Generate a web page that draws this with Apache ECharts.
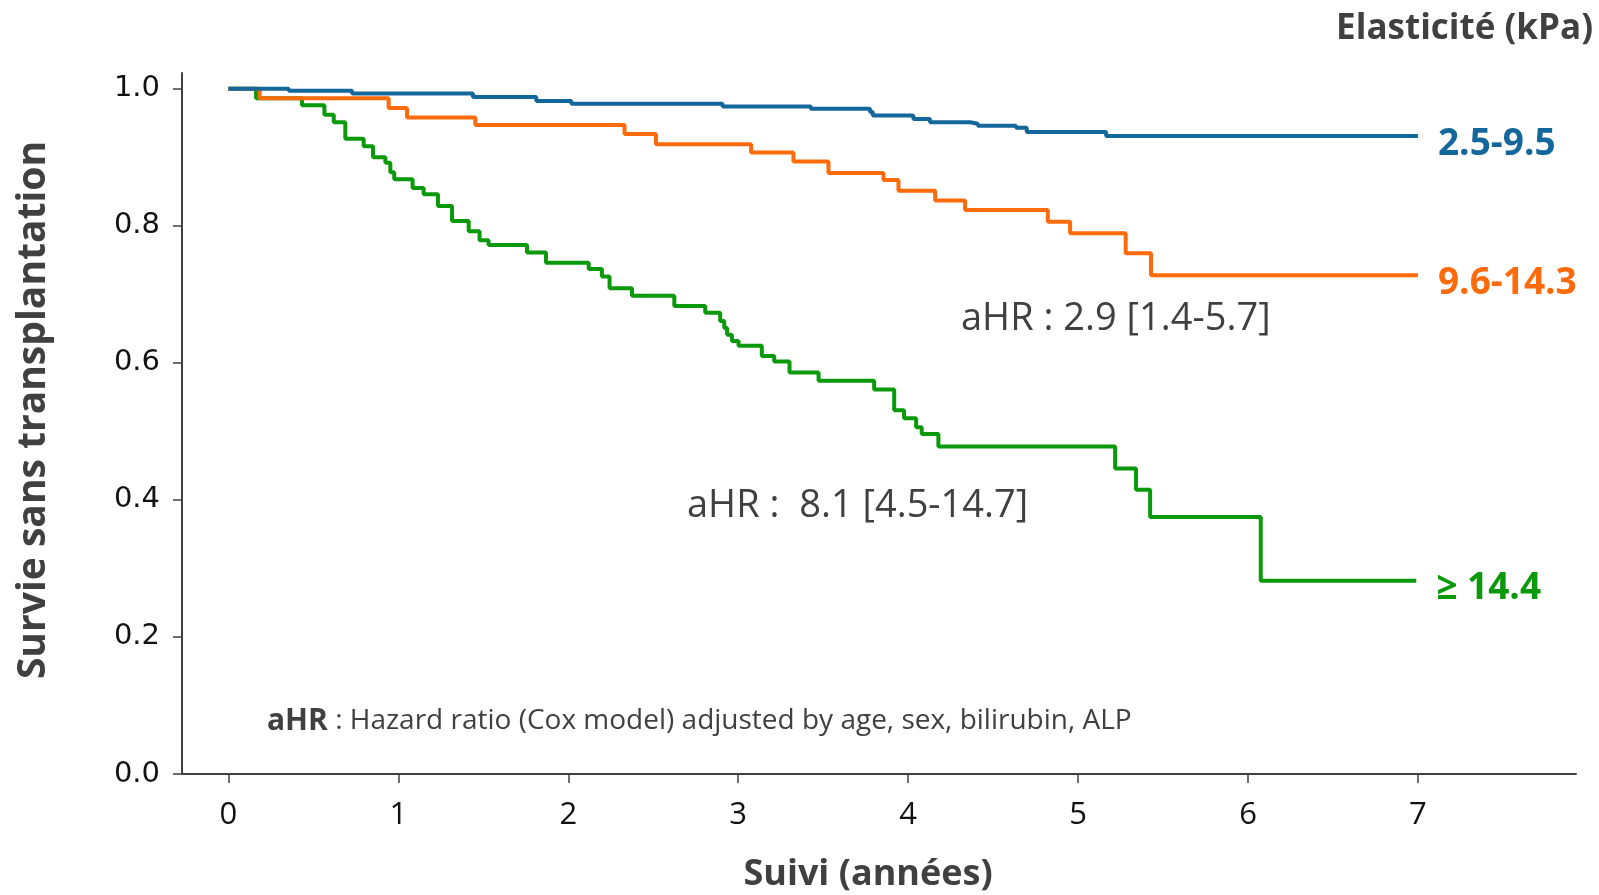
<!DOCTYPE html>
<html><head><meta charset="utf-8">
<script src="https://cdn.jsdelivr.net/npm/echarts@6/dist/echarts.min.js"></script>
<style>html,body{margin:0;padding:0;background:#fff}#c{width:1599px;height:895px}</style>
</head><body><div id="c"></div>
<script>
// Group names (Elasticité, kPa)
const groupNames = ['2.5-9.5', '9.6-14.3', '≥ 14.4'];
// Kaplan–Meier step points (time in years, survival)
const blueT = [0, 0.355, 0.728, 1.439, 1.812, 2.018, 2.908, 3.427, 3.776, 3.792, 4.031, 4.129, 4.365, 4.41, 4.635, 4.698, 5.165, 7.0];
const blueS = [1.0, 0.997, 0.993, 0.988, 0.982, 0.978, 0.974, 0.971, 0.966, 0.961, 0.956, 0.951, 0.949, 0.946, 0.943, 0.937, 0.931, 0.931];
const orangeT = [0, 0.184, 0.943, 1.051, 1.453, 2.331, 2.516, 3.076, 3.325, 3.531, 3.855, 3.943, 4.159, 4.335, 4.822, 4.953, 5.28, 5.429, 7.0];
const orangeS = [1.0, 0.986, 0.972, 0.958, 0.947, 0.934, 0.919, 0.907, 0.894, 0.877, 0.867, 0.851, 0.837, 0.823, 0.806, 0.789, 0.760, 0.728, 0.728];
const greenT = [0, 0.163, 0.433, 0.565, 0.62, 0.688, 0.796, 0.851, 0.924, 0.953, 0.976, 1.084, 1.149, 1.233, 1.316, 1.414, 1.478, 1.531, 1.757, 1.869, 2.12, 2.198, 2.243, 2.375, 2.624, 2.806, 2.894, 2.918, 2.935, 2.963, 3.002, 3.139, 3.212, 3.302, 3.473, 3.8, 3.918, 3.976, 4.047, 4.08, 4.178, 5.218, 5.341, 5.424, 6.075, 6.99];
const greenS = [1.0, 0.986, 0.976, 0.962, 0.951, 0.927, 0.916, 0.900, 0.892, 0.878, 0.868, 0.855, 0.846, 0.829, 0.807, 0.792, 0.779, 0.772, 0.761, 0.746, 0.737, 0.726, 0.709, 0.698, 0.683, 0.673, 0.661, 0.651, 0.641, 0.632, 0.625, 0.610, 0.602, 0.586, 0.574, 0.561, 0.531, 0.519, 0.506, 0.496, 0.478, 0.446, 0.415, 0.375, 0.282, 0.282];
// Tick labels
const xTicks = [0, 1, 2, 3, 4, 5, 6, 7];
const yTicks = [0, 0.2, 0.4, 0.6, 0.8, 1.0];
// Texts
const xTitle = 'Suivi (années)';
const yTitle = 'Survie sans transplantation';
const legendTitle = 'Elasticité (kPa)';
const hrOrange = 'aHR : 2.9 [1.4-5.7]';
const hrGreen = 'aHR :  8.1 [4.5-14.7]';
const footBold = 'aHR';
const footText = ' : Hazard ratio (Cox model) adjusted by age, sex, bilirubin, ALP';

const colBlue = '#14679a', colOrange = '#ff6a0a', colGreen = '#0a990a', colText = '#404040';
const txtFont = '"Open Sans", "Noto Sans", sans-serif';

function pairs(t, s) { return t.map((v, i) => [v, s[i]]); }

function kmSeries(name, t, s, color) {
  return {
    type: 'line', name: name, step: 'end', data: pairs(t, s),
    showSymbol: false, symbol: 'none',
    lineStyle: { color: color, width: 4 },
    itemStyle: { color: color },
    endLabel: {
      show: true, formatter: name, color: color,
      fontFamily: txtFont, fontWeight: 'bold', fontSize: 37,
      distance: 20, offset: [0, 8]
    }
  };
}

const chart = echarts.init(document.getElementById('c'));
chart.setOption({
  animation: false,
  backgroundColor: '#ffffff',
  grid: { left: 182, right: 23, top: 73, bottom: 121 },
  xAxis: {
    type: 'value', min: -0.273, max: 7.93,
    axisLine: { show: true, lineStyle: { color: colText, width: 2 } },
    axisTick: { show: true, customValues: xTicks, length: 9, lineStyle: { color: colText, width: 1.5 } },
    axisLabel: { customValues: xTicks, margin: 26, color: '#111', fontSize: 31, fontFamily: '"Liberation Sans Narrow", "Open Sans", sans-serif' },
    splitLine: { show: false }
  },
  yAxis: {
    type: 'value', min: 0, max: 1.023,
    axisLine: { show: true, onZero: false, lineStyle: { color: colText, width: 2 } },
    axisTick: { show: true, customValues: yTicks, length: 9, lineStyle: { color: colText, width: 1.5 } },
    axisLabel: { customValues: yTicks, margin: 22, color: '#111', fontSize: 29, fontFamily: '"DejaVu Sans", sans-serif', formatter: v => v.toFixed(1) },
    splitLine: { show: false }
  },
  series: [
    kmSeries(groupNames[2], greenT, greenS, colGreen),
    kmSeries(groupNames[1], orangeT, orangeS, colOrange),
    kmSeries(groupNames[0], blueT, blueS, colBlue)
  ],
  graphic: [
    { type: 'text', x: 1593, y: 29, style: { text: legendTitle, fill: colText, font: 'bold 35px ' + txtFont, align: 'right', verticalAlign: 'middle' } },
    { type: 'text', x: 868, y: 875, style: { text: xTitle, fill: colText, font: 'bold 36px ' + txtFont, align: 'center', verticalAlign: 'middle' } },
    { type: 'text', x: 34, y: 410, rotation: Math.PI / 2, style: { text: yTitle, fill: colText, font: 'bold 39px ' + txtFont, align: 'center', verticalAlign: 'middle' } },
    { type: 'text', x: 961, y: 319, style: { text: hrOrange, fill: colText, font: '38px ' + txtFont, align: 'left', verticalAlign: 'middle' } },
    { type: 'text', x: 687, y: 506, style: { text: hrGreen, fill: colText, font: '38px ' + txtFont, align: 'left', verticalAlign: 'middle' } },
    { type: 'text', x: 267, y: 721, style: {
        text: '{b|' + footBold + '}{n|' + footText + '}', align: 'left', verticalAlign: 'middle',
        rich: {
          b: { fill: colText, fontWeight: 'bold', fontSize: 30, fontFamily: txtFont },
          n: { fill: colText, fontSize: 28, fontFamily: txtFont }
        }
      } }
  ]
});
</script>
</body></html>
